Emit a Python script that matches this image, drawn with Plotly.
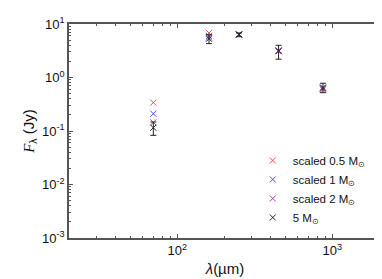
import plotly.graph_objects as go

wavelength = [70, 160, 250, 450, 870]
flux_05 = [0.34, 6.8, 6.4, 3.2, 0.59]
flux_1 = [0.21, 6.0, 6.4, 3.2, 0.62]
flux_2 = [0.145, 5.6, 6.4, 3.2, 0.63]
flux_5 = [0.115, 5.3, 6.3, 3.1, 0.65]
err_5 = [0.032, 1.0, 0.5, 0.9, 0.13]

x_tickvals = [100, 1000]
x_ticktext = ["10<sup>2</sup>", "10<sup>3</sup>"]
y_tickvals = [0.001, 0.01, 0.1, 1, 10]
y_ticktext = ["10<sup>-3</sup>", "10<sup>-2</sup>", "10<sup>-1</sup>", "10<sup>0</sup>", "10<sup>1</sup>"]

names = ["scaled 0.5 M<sub>⊙</sub>", "scaled 1 M<sub>⊙</sub>",
         "scaled 2 M<sub>⊙</sub>", "5 M<sub>⊙</sub>"]
colors = ["#ff4a4a", "#4a4aff", "#a040b0", "#222222"]
series = [flux_05, flux_1, flux_2, flux_5]

fig = go.Figure()
for i, (nm, col, ys) in enumerate(zip(names, colors, series)):
    kw = {}
    if i == 3:
        kw["error_y"] = dict(type="data", array=err_5, visible=True,
                             color="#222222", thickness=1, width=3)
    fig.add_trace(go.Scatter(
        x=wavelength, y=ys, mode="markers", name=nm,
        marker=dict(symbol="x-thin", size=6, line=dict(width=1, color=col), color=col),
        **kw))

axis_common = dict(
    type="log", showline=True, linecolor="#555555", linewidth=1.5,
    mirror="allticks", ticks="inside", ticklen=4, tickcolor="#555555",
    showgrid=False, zeroline=False,
    tickfont=dict(family="Liberation Sans, Arial", size=13, color="#111111"),
    minor=dict(ticks="inside", ticklen=2, tickcolor="#555555", dtick="D1", showgrid=False),
)

fig.update_xaxes(**axis_common, range=[1.301, 3.314],
                 tickmode="array", tickvals=x_tickvals, ticktext=x_ticktext,
                 title=dict(text="<i>λ</i>(µm)", standoff=6,
                            font=dict(family="Liberation Sans, Arial", size=15, color="#111111")))
fig.update_yaxes(**axis_common, range=[-3, 1],
                 tickmode="array", tickvals=y_tickvals, ticktext=y_ticktext,
                 title=dict(text="<span style='font-family:Liberation Serif'><i>F</i></span><sub>λ</sub> (Jy)",
                            standoff=4,
                            font=dict(family="Liberation Sans, Arial", size=15, color="#111111")))

fig.update_layout(
    width=382, height=279,
    margin=dict(l=61, r=7, t=15, b=49),
    paper_bgcolor="white", plot_bgcolor="white",
    showlegend=True,
    legend=dict(x=0.589, y=0.43, xanchor="left", yanchor="top",
                bgcolor="rgba(0,0,0,0)",
                font=dict(family="Liberation Sans, Arial", size=11.5, color="#111111"),
                tracegroupgap=0, itemwidth=30),
)

fig.write_html("out.html")
